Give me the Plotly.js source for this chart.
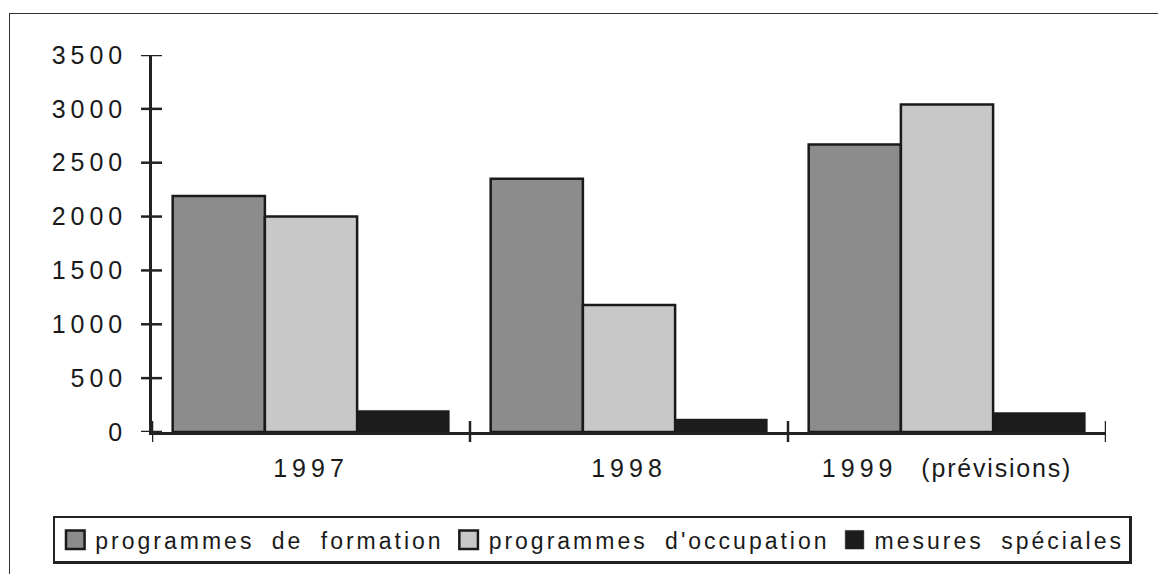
<!DOCTYPE html>
<html>
<head>
<meta charset="utf-8">
<script src="https://cdn.plot.ly/plotly-3.0.1.min.js"></script>
<style>
  html, body { margin: 0; padding: 0; background: #fff; }
  #wrap { position: relative; width: 1158px; height: 574px; overflow: hidden; }
  #chart { width: 1158px; height: 574px; }
  #frame { position: absolute; left: 9px; top: 13px; width: 1200px; height: 600px;
           border-left: 1.5px solid #333; border-top: 1.5px solid #333; pointer-events: none; }
  .ytick text { letter-spacing: 5px; }
  .xtick text { letter-spacing: 5px; }
  .legendtext { letter-spacing: 3px; word-spacing: 8px; }
  .legend .legendpoints path { transform: translate(20px, 0px) scale(1.55); vector-effect: non-scaling-stroke; }
</style>
</head>
<body>
<div id="wrap">
  <div id="chart"></div>
  <div id="frame"></div>
</div>
<script>
const categories = ["1997", "1998", "1999\u00a0(prévisions)"];
const seriesNames = ["programmes de formation", "programmes d'occupation", "mesures spéciales"];
const formation = [2190, 2350, 2670];
const occupation = [2000, 1180, 3040];
const speciales = [200, 120, 180];
const yTickStep = 500;
const yMax = 3500;

const colors = ["#8c8c8c", "#c8c8c8", "#1c1c1c"];
const values = [formation, occupation, speciales];

// tick text: parenthesised note drawn with tighter letter spacing
const tickText = categories.map(c => c.replace(/\s*(\(.*\))/, (m, p) =>
  '\u00a0\u00a0<span style="letter-spacing:1.8px">' + p + '</span>'));

const traces = values.map((v, i) => ({
  type: "bar",
  name: seriesNames[i],
  x: categories,
  y: v,
  marker: { color: colors[i], line: { color: "#1a1a1a", width: i < 2 ? 2.5 : 0.5 } },
  hoverinfo: "x+y+name"
}));

// crossing tick marks drawn as pixel-sized shapes at the axis tick positions
const tickShapes = [];
for (let v = 0; v <= yMax; v += yTickStep) {
  tickShapes.push({ type: "line", xref: "paper", xsizemode: "pixel", xanchor: 0,
    x0: -11, x1: 10, yref: "y", y0: v, y1: v, line: { color: "#222", width: 2.5 }, layer: "above" });
}
for (let i = 0; i <= categories.length; i++) {
  tickShapes.push({ type: "line", xref: "x", x0: i - 0.5, x1: i - 0.5,
    yref: "paper", ysizemode: "pixel", yanchor: 0, y0: -10, y1: 11,
    line: { color: "#222", width: 2.5 }, layer: "above" });
}

const fontFam = "Liberation Sans, Arial, Helvetica, sans-serif";

const layout = {
  width: 1158,
  height: 574,
  margin: { l: 152, r: 52, t: 55, b: 141 },
  paper_bgcolor: "#fff",
  plot_bgcolor: "rgba(0,0,0,0)",
  barmode: "group",
  bargap: 0.13,
  bargroupgap: 0,
  showlegend: true,
  font: { family: fontFam, color: "#1a1a1a" },
  shapes: tickShapes,
  xaxis: {
    type: "category",
    categoryarray: categories,
    tickmode: "array", tickvals: categories, ticktext: tickText,
    range: [-0.5, 2.5],
    showline: true, linecolor: "#222", linewidth: 2.5,
    ticks: "",
    ticklabelstandoff: 12,
    tickfont: { size: 25, family: fontFam, color: "#1a1a1a" },
    showgrid: false, zeroline: false, fixedrange: true
  },
  yaxis: {
    range: [0, yMax],
    dtick: yTickStep, tick0: 0,
    showline: true, linecolor: "#222", linewidth: 2.5,
    ticks: "",
    ticklabelstandoff: 17,
    tickfont: { size: 25, family: fontFam, color: "#1a1a1a" },
    showgrid: false, zeroline: false, fixedrange: true
  },
  legend: {
    orientation: "h",
    x: -0.104, xanchor: "left",
    y: -0.219, yanchor: "top",
    bgcolor: "#fff",
    bordercolor: "#222",
    borderwidth: 2.5,
    font: { size: 23, family: fontFam, color: "#1a1a1a" },
    itemclick: false, itemdoubleclick: false,
    tracegroupgap: 0
  }
};

Plotly.newPlot("chart", traces, layout, { displayModeBar: false });
</script>
</body>
</html>
